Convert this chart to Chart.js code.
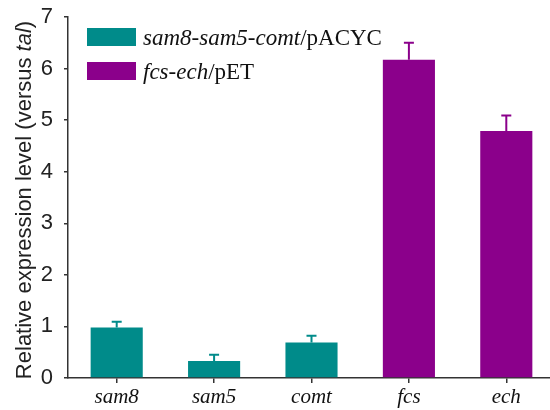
<!DOCTYPE html>
<html>
<head>
<meta charset="utf-8">
<script src="https://cdn.jsdelivr.net/npm/chart.js@4"></script>
<style>
  html, body { margin: 0; padding: 0; overflow: hidden; background: #fff; }
  #wrap { width: 560px; height: 410px; }
</style>
</head>
<body>
<div id="wrap"><canvas id="c" width="560" height="410"></canvas></div>
<script>
const categories = ['sam8', 'sam5', 'comt', 'fcs', 'ech'];
const pacycValues = [0.98, 0.33, 0.69, null, null];
const pacycErrors = [0.11, 0.12, 0.13, null, null];
const petValues = [null, null, null, 6.17, 4.79];
const petErrors = [null, null, null, 0.33, 0.30];
const yTicks = [0, 1, 2, 3, 4, 5, 6, 7];
const legendParts = [
  [{t: 'sam8-sam5-comt', i: true}, {t: '/pACYC', i: false}],
  [{t: 'fcs-ech', i: true}, {t: '/pET', i: false}]
];
const titleParts = [{t: 'Relative expression level (versus ', i: false}, {t: 'tal', i: true}, {t: ')', i: false}];

const TEAL = '#008B8A';
const PURPLE = '#8B008B';
const AXIS = '#333333';
const SERIF = '"Liberation Serif", "Times New Roman", serif';
const SANS = '"Liberation Sans", Arial, sans-serif';

const errorBars = {
  id: 'errorBars',
  afterDatasetsDraw(chart) {
    const ctx = chart.ctx;
    const errs = [pacycErrors, petErrors];
    const cols = [TEAL, PURPLE];
    chart.data.datasets.forEach((ds, di) => {
      const meta = chart.getDatasetMeta(di);
      meta.data.forEach((bar, i) => {
        const v = ds.data[i], e = errs[di][i];
        if (v == null || e == null) return;
        const y = chart.scales.y;
        const yTop = y.getPixelForValue(v + e);
        const yBase = y.getPixelForValue(v);
        ctx.save();
        ctx.strokeStyle = cols[di];
        ctx.lineWidth = 2;
        ctx.beginPath();
        ctx.moveTo(bar.x, yBase);
        ctx.lineTo(bar.x, yTop);
        ctx.moveTo(bar.x - 5, yTop);
        ctx.lineTo(bar.x + 5, yTop);
        ctx.stroke();
        ctx.restore();
      });
    });
  }
};

function drawParts(ctx, parts, x, y, size, fam) {
  let cx = x;
  parts.forEach(p => {
    ctx.font = (p.i ? 'italic ' : '') + size + 'px ' + fam;
    ctx.fillText(p.t, cx, y);
    cx += ctx.measureText(p.t).width;
  });
  return cx - x;
}

const decorations = {
  id: 'decorations',
  afterDraw(chart) {
    const ctx = chart.ctx;
    ctx.save();
    // legend
    const cols = [TEAL, PURPLE];
    const boxY = [28, 62];
    legendParts.forEach((parts, k) => {
      ctx.fillStyle = cols[k];
      ctx.fillRect(87, boxY[k], 49, 18);
      ctx.fillStyle = '#111';
      ctx.textBaseline = 'alphabetic';
      drawParts(ctx, parts, 143, boxY[k] + 17, 23, SERIF);
    });
    // y title
    ctx.translate(31, 200);
    ctx.rotate(-Math.PI / 2);
    ctx.fillStyle = '#222';
    const size = 22;
    let w = 0;
    titleParts.forEach(p => {
      ctx.font = (p.i ? 'italic ' : '') + size + 'px ' + SANS;
      w += ctx.measureText(p.t).width;
    });
    ctx.textBaseline = 'alphabetic';
    drawParts(ctx, titleParts, -w / 2, 0, size, SANS);
    ctx.restore();
  }
};

new Chart(document.getElementById('c'), {
  type: 'bar',
  data: {
    labels: categories,
    datasets: [
      { label: 'sam8-sam5-comt/pACYC', data: pacycValues, backgroundColor: TEAL, borderWidth: 0 },
      { label: 'fcs-ech/pET', data: petValues, backgroundColor: PURPLE, borderWidth: 0 }
    ]
  },
  options: {
    responsive: false,
    animation: false,
    devicePixelRatio: 1,
    layout: { padding: { left: 0, right: 5, top: 17, bottom: 0 } },
    datasets: { bar: { grouped: false, barPercentage: 0.535, categoryPercentage: 1 } },
    plugins: { legend: { display: false }, tooltip: { enabled: false } },
    scales: {
      x: {
        offset: true,
        grid: { display: true, offset: false, drawOnChartArea: false, drawTicks: true, tickLength: 5, color: AXIS, lineWidth: 1.5 },
        border: { display: true, color: AXIS, width: 1.5 },
        ticks: { color: '#111', font: { family: SERIF, style: 'italic', size: 21 }, padding: 2 },
        afterFit(s) { s.height = 32; s.paddingLeft = 0; s.paddingRight = 0; }
      },
      y: {
        min: 0, max: 7,
        ticks: {
          stepSize: 0.5,
          color: '#222',
          font: { family: SANS, size: 22 },
          padding: 11,
          callback: v => (yTicks.includes(v) ? String(v) : '')
        },
        grid: { display: true, drawOnChartArea: false, drawTicks: true, tickLength: 4, color: AXIS, lineWidth: 1.5 },
        border: { display: true, color: AXIS, width: 1.5 },
        afterFit(s) { s.width = 68; s.paddingTop = 0; s.paddingBottom = 0; }
      }
    }
  },
  plugins: [errorBars, decorations]
});
</script>
</body>
</html>
